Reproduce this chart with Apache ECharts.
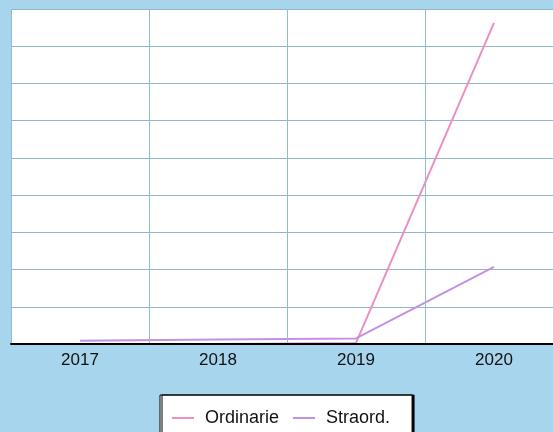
<!DOCTYPE html>
<html>
<head>
<meta charset="utf-8">
<script src="https://cdn.jsdelivr.net/npm/echarts@6/dist/echarts.min.js"></script>
<style>
html,body{margin:0;padding:0;background:#a8d5ee;overflow:hidden;width:553px;height:432px;}
#c{width:563px;height:432px;}
</style>
</head>
<body>
<div id="c"></div>
<script>
const categories = ['2017', '2018', '2019', '2020'];
const ordinarie = [0, 0, 3, 863];
const straord = [9, 12, 15, 207];
const seriesNames = ['Ordinarie', 'Straord.'];

const FONT = '"Liberation Sans", Arial, sans-serif';
const chart = echarts.init(document.getElementById('c'));
chart.setOption({
  backgroundColor: '#a8d5ee',
  animation: false,
  grid: { left: 11, top: 9, right: 0, height: 335, backgroundColor: '#ffffff', show: true, borderWidth: 0 },
  legend: {
    top: 395,
    left: 160,
    data: seriesNames,
    backgroundColor: '#ffffff',
    borderColor: '#000000',
    borderWidth: 1,
    padding: [14, 22, 16, 11],
    itemGap: 13,
    itemWidth: 22,
    itemHeight: 2,
    shadowColor: '#000000',
    shadowOffsetX: 2,
    shadowBlur: 0,
    textStyle: { fontFamily: FONT, fontSize: 18, color: '#111111', padding: [0, 0, 0, 6] }
  },
  xAxis: {
    type: 'category',
    data: categories,
    boundaryGap: true,
    z: 5,
    axisLine: { lineStyle: { color: '#000000', width: 2 } },
    axisTick: { show: false },
    axisLabel: { fontFamily: FONT, fontSize: 17, color: '#111111', margin: 8 },
    splitLine: { show: true, lineStyle: { color: '#8fbcd6', width: 1 } }
  },
  yAxis: {
    type: 'value',
    min: 0, max: 900, interval: 100,
    axisLine: { show: false },
    axisTick: { show: false },
    axisLabel: { show: false },
    splitLine: { show: true, lineStyle: { color: '#8fb6cc', width: 1 } }
  },
  series: [
    { name: seriesNames[0], type: 'line', data: ordinarie, symbol: 'none', lineStyle: { color: '#ec8fc4', width: 2 }, itemStyle: { color: '#ec8fc4' } },
    { name: seriesNames[1], type: 'line', data: straord, symbol: 'none', lineStyle: { color: '#c291e4', width: 2 }, itemStyle: { color: '#c291e4' } }
  ]
});
</script>
</body>
</html>
